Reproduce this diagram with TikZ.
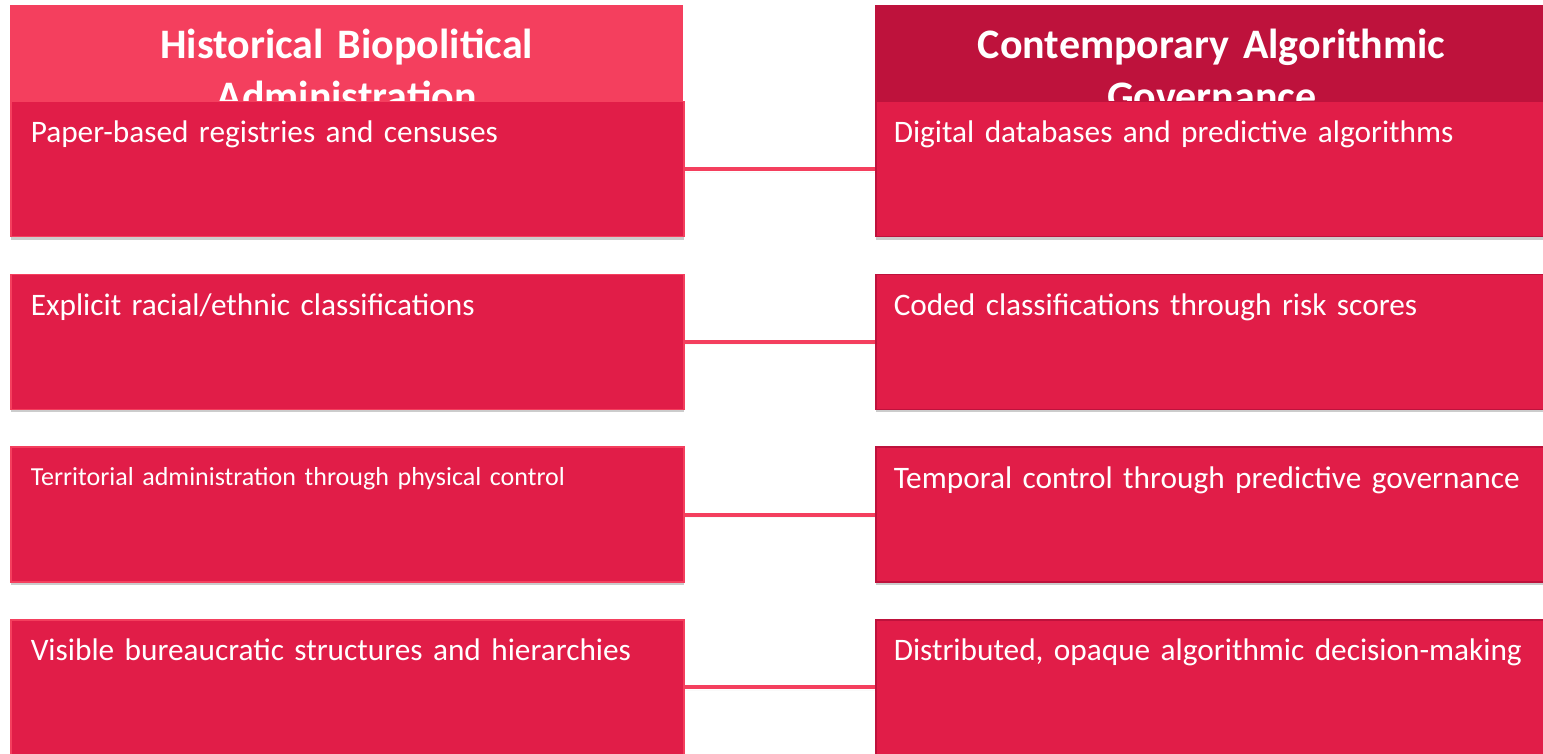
\documentclass[tikz,border=0pt]{standalone}
\usepackage{fontspec}
\setmainfont{Carlito}
\usepackage{xcolor}
\usetikzlibrary{positioning, shadows}
\definecolor{roselight}{HTML}{F43F5E}
\definecolor{rosemid}{HTML}{E11D48}
\definecolor{rosedark}{HTML}{BE123C}

\begin{document}
\begin{tikzpicture}[x=1pt, y=-1pt,
    softshadow/.style={drop shadow={shadow xshift=0pt, shadow yshift=-3pt, opacity=0.2, fill=black}},
    headbox/.style={softshadow, text=white, font=\fontsize{42}{52}\selectfont\bfseries,
        text width=633pt, align=center, inner xsep=20pt, inner ysep=0pt,
        text height=53pt, text depth=77pt, anchor=north west},
    rowbox/.style={softshadow, fill=rosemid, text=white, font=\fontsize{31.3}{37}\selectfont,
        align=left, inner ysep=0pt,
        text height=41pt, text depth=94pt, line width=1.5pt},
    leftbox/.style={rowbox, draw=roselight, text width=633pt, inner xsep=20pt},
    rightbox/.style={rowbox, draw=rosedark, text width=660pt, inner xsep=18pt},
    link/.style={roselight, line width=4pt}]
    \clip (0,0) rectangle (1543,754);
    \useasboundingbox (0,0) rectangle (1543,754);

    % Column headers
    \node[headbox, fill=roselight] (histhead) at (10,5) {Historical Biopolitical\\Administration};
    \node[headbox, fill=rosedark] (conthead) at (875,5) {Contemporary Algorithmic\\Governance};

    % Historical column
    \node[leftbox, anchor=north west] (hist1) at (10,101) {Paper-based registries and censuses};
    \node[leftbox, below=36.2pt of hist1] (hist2) {Explicit racial/ethnic classifications};
    \node[leftbox, below=36.2pt of hist2, font=\fontsize{26}{31}\selectfont,
        text height=38pt, text depth=97pt] (hist3) {Territorial administration through physical control};
    \node[leftbox, below=36.2pt of hist3] (hist4) {Visible bureaucratic structures and hierarchies};

    % Contemporary column
    \node[rightbox, anchor=north west] (cont1) at (875,101) {Digital databases and predictive algorithms};
    \node[rightbox, below=36.2pt of cont1] (cont2) {Coded classifications through risk scores};
    \node[rightbox, below=36.2pt of cont2] (cont3) {Temporal control through predictive governance};
    \node[rightbox, below=36.2pt of cont3] (cont4) {Distributed, opaque algorithmic decision-making};

    % Links between eras
    \draw[link, softshadow] (hist1) -- (cont1);
    \draw[link, softshadow] (hist2) -- (cont2);
    \draw[link, softshadow] (hist3) -- (cont3);
    \draw[link, softshadow] (hist4) -- (cont4);
\end{tikzpicture}
\end{document}
